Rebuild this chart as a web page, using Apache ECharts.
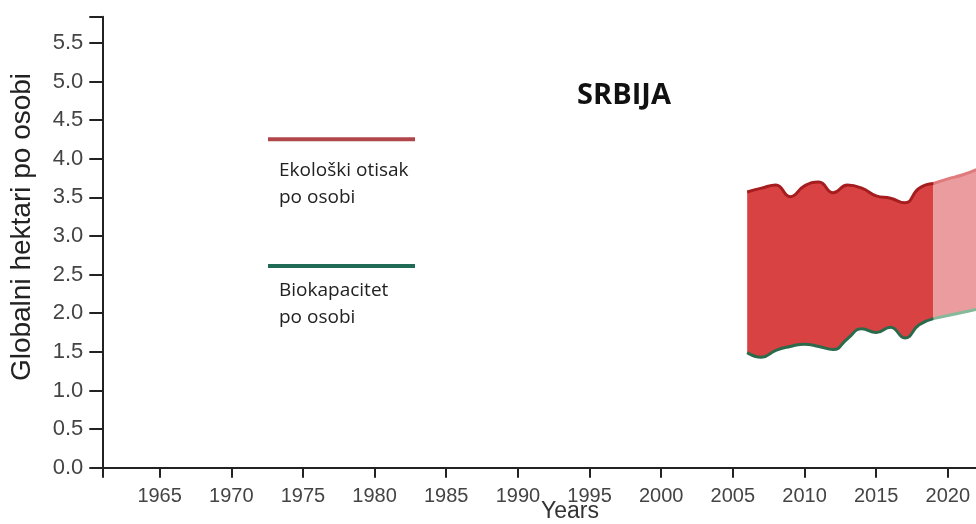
<!DOCTYPE html>
<html>
<head>
<meta charset="utf-8">
<script src="https://cdn.jsdelivr.net/npm/echarts@6/dist/echarts.min.js"></script>
<style>html,body{margin:0;padding:0;background:#fff;}#c{width:976px;height:524px;}</style>
</head>
<body>
<div id="c"></div>
<script>
// ---- data ----
const years = [2006, 2007, 2008, 2009, 2010, 2011, 2012, 2013, 2014, 2015, 2016, 2017, 2018, 2019];
const footprint = [3.57, 3.62, 3.66, 3.51, 3.65, 3.70, 3.56, 3.66, 3.62, 3.52, 3.49, 3.43, 3.62, 3.68];
const biocapacity = [1.49, 1.43, 1.52, 1.57, 1.60, 1.57, 1.53, 1.67, 1.80, 1.75, 1.82, 1.68, 1.85, 1.93];
const projYears = [2019, 2020, 2021, 2022];
const projFootprint = [3.68, 3.74, 3.79, 3.86];
const projBiocapacity = [1.93, 1.97, 2.01, 2.05];
const xTickLabels = [1965, 1970, 1975, 1980, 1985, 1990, 1995, 2000, 2005, 2010, 2015, 2020, 2025];
const xTicks = [1961].concat(xTickLabels);
const titleText = 'SRBIJA';
const yAxisTitle = 'Globalni hektari po osobi';
const xAxisTitle = 'Years';
const legendFootprint = ['Ekološki otisak', 'po osobi'];
const legendBiocap = ['Biokapacitet', 'po osobi'];

// value first, year second (encode maps them), so stacking happens on the value dimension
const vy = (xs, ys) => xs.map((x, i) => [ys[i], x]);
const vyDiff = (xs, top, bot) => xs.map((x, i) => [+(top[i] - bot[i]).toFixed(3), x]);
const pairs = (xs, ys) => xs.map((x, i) => [x, ys[i]]);

const chart = echarts.init(document.getElementById('c'), null, {renderer: 'canvas'});
const tickFont = 'Liberation Sans';
const SM = 0.5;
const ENC = {x: 1, y: 0};
chart.setOption({
  animation: false,
  backgroundColor: '#fff',
  grid: {left: 102.3, top: 16.7, height: 451, width: 931.5, containLabel: false, outerBoundsMode: 'none'},
  xAxis: {
    type: 'value', min: 1961, max: 2026, z: 10,
    axisLine: {show: true, lineStyle: {color: '#222', width: 2}},
    axisTick: {show: true, length: 10, customValues: xTicks, lineStyle: {color: '#222', width: 2}},
    axisLabel: {customValues: xTickLabels, fontFamily: tickFont, fontSize: 20, color: '#444', margin: 19,
      formatter: v => String(v)},
    splitLine: {show: false}
  },
  yAxis: {
    type: 'value', min: 0, max: 5.84, interval: 0.5, z: 10,
    axisLine: {show: true, lineStyle: {color: '#222', width: 2}},
    axisTick: {show: true, length: 13, lineStyle: {color: '#222', width: 2}},
    axisLabel: {
      fontFamily: tickFont, fontSize: 22, color: '#444', margin: 19,
      formatter: v => (Math.abs(v * 2 - Math.round(v * 2)) < 1e-6 ? v.toFixed(1) : '')
    },
    splitLine: {show: false}
  },
  series: [
    {type: 'line', stack: 'solid', encode: ENC, data: vy(years, biocapacity), smooth: SM, symbol: 'none',
     lineStyle: {width: 0, opacity: 0}, silent: true},
    {type: 'line', stack: 'solid', encode: ENC, data: vyDiff(years, footprint, biocapacity), smooth: SM, symbol: 'none',
     lineStyle: {width: 0, opacity: 0}, areaStyle: {color: '#d94242', opacity: 1}, silent: true},
    {type: 'line', stack: 'proj', encode: ENC, data: vy(projYears, projBiocapacity), smooth: SM, symbol: 'none',
     lineStyle: {width: 0, opacity: 0}, silent: true},
    {type: 'line', stack: 'proj', encode: ENC, data: vyDiff(projYears, projFootprint, projBiocapacity), smooth: SM, symbol: 'none',
     lineStyle: {width: 0, opacity: 0}, areaStyle: {color: '#ea9c9f', opacity: 1}, silent: true},
    {type: 'line', data: pairs(projYears, projFootprint), smooth: SM, symbol: 'none',
     lineStyle: {color: '#e07a7c', width: 3}, z: 3},
    {type: 'line', data: pairs(projYears, projBiocapacity), smooth: SM, symbol: 'none',
     lineStyle: {color: '#86b89a', width: 3}, z: 3},
    {type: 'line', data: pairs(years, footprint), smooth: SM, symbol: 'none',
     lineStyle: {color: '#a51d1f', width: 3}, z: 4},
    {type: 'line', data: pairs(years, biocapacity), smooth: SM, symbol: 'none',
     lineStyle: {color: '#2c6a4c', width: 3}, z: 4}
  ],
  graphic: [
    {type: 'text', x: 22, y: 227, rotation: Math.PI / 2,
     style: {text: yAxisTitle, fontFamily: 'Liberation Sans', fontSize: 28, fill: '#222', align: 'center', verticalAlign: 'middle'}},
    {type: 'text', x: 570, y: 512,
     style: {text: xAxisTitle, fontFamily: 'Liberation Sans', fontSize: 23, fill: '#333', align: 'center', verticalAlign: 'middle'}},
    {type: 'text', x: 624, y: 96,
     style: {text: titleText, fontFamily: 'Open Sans', fontWeight: 'bold', fontSize: 29, fill: '#111', align: 'center', verticalAlign: 'middle'}},
    {type: 'line', shape: {x1: 268, y1: 139.3, x2: 415, y2: 139.3}, style: {stroke: '#b0464a', lineWidth: 4}},
    {type: 'line', shape: {x1: 268, y1: 266, x2: 415, y2: 266}, style: {stroke: '#1f6b55', lineWidth: 4}},
    {type: 'text', x: 279, y: 170.5, style: {text: legendFootprint[0], fontFamily: 'Open Sans', fontSize: 19, fill: '#222', verticalAlign: 'middle'}},
    {type: 'text', x: 279, y: 197.5, style: {text: legendFootprint[1], fontFamily: 'Open Sans', fontSize: 19, fill: '#222', verticalAlign: 'middle'}},
    {type: 'text', x: 279, y: 290.8, style: {text: legendBiocap[0], fontFamily: 'Open Sans', fontSize: 19, fill: '#222', verticalAlign: 'middle'}},
    {type: 'text', x: 279, y: 317.5, style: {text: legendBiocap[1], fontFamily: 'Open Sans', fontSize: 19, fill: '#222', verticalAlign: 'middle'}}
  ]
});
</script>
</body>
</html>
